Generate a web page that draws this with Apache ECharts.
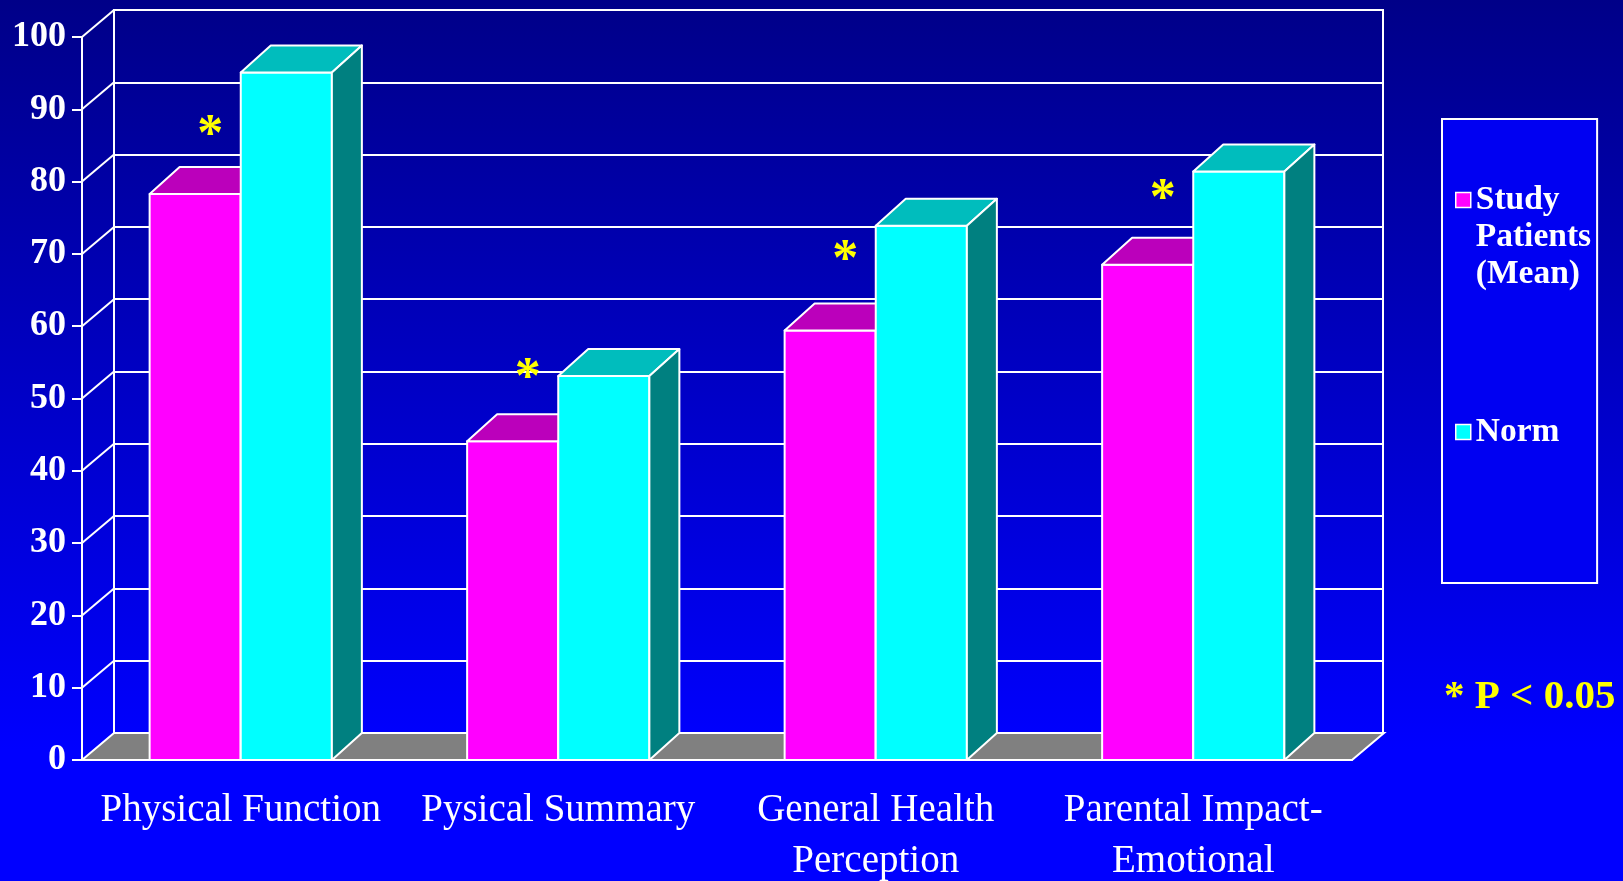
<!DOCTYPE html>
<html>
<head>
<meta charset="utf-8">
<title>Health status vs norm</title>
<script src="https://cdn.jsdelivr.net/npm/echarts@6/dist/echarts.min.js"></script>
<style>
  html, body { margin: 0; padding: 0; overflow: hidden; }
  #chart { width: 1623px; height: 881px; }
</style>
</head>
<body>
<div id="chart"></div>
<script>
var categories = ['Physical Function', 'Pysical Summary', 'General Health\nPerception', 'Parental Impact-\nEmotional'];
var seriesNames = ['Study Patients (Mean)', 'Norm'];
var studyPatients = [78.3, 44.1, 59.4, 68.5];
var norm = [95.1, 53.1, 73.9, 81.4];
// height of the "*" significance marks
var starLevels = [87.6, 54.0, 70.3, 78.8];
var yTicks = [0, 10, 20, 30, 40, 50, 60, 70, 80, 90, 100];

var chart = echarts.init(document.getElementById('chart'));

var edge = { stroke: '#ffffff', lineWidth: 2, lineJoin: 'round' };

function bar3d(side, front, top, right) {
  return function (params, api) {
    var c = api.coord([api.value(0), api.value(1)]);
    var b = api.coord([api.value(0), 0]);
    var w = api.size([1, 0])[0] * 0.287;
    var x = c[0] + side * w;
    var dx = 30, dy = 27;
    return {
      type: 'group',
      children: [
        { type: 'rect', shape: { x: x, y: c[1], width: w, height: b[1] - c[1] }, style: Object.assign({ fill: front }, edge) },
        { type: 'polygon', shape: { points: [[x, c[1]], [x + w, c[1]], [x + w + dx, c[1] - dy], [x + dx, c[1] - dy]] }, style: Object.assign({ fill: top }, edge) },
        { type: 'polygon', shape: { points: [[x + w, c[1]], [x + w + dx, c[1] - dy], [x + w + dx, b[1] - dy], [x + w, b[1]]] }, style: Object.assign({ fill: right }, edge) }
      ]
    };
  };
}

// left wall diagonals + grey floor
function frame(params, api) {
  var t = api.value(1);
  var p = api.coord([0, t]);
  var bw = api.size([1, 0])[0];
  var xl = p[0] - bw / 2;
  if (t !== 0) {
    return { type: 'line', shape: { x1: xl, y1: p[1], x2: xl + 32, y2: p[1] - 27 }, style: { stroke: '#ffffff', lineWidth: 2 } };
  }
  var xr = api.coord([categories.length - 1, 0])[0] + bw / 2;
  return {
    type: 'polygon',
    shape: { points: [[xl, p[1]], [xr, p[1]], [xr + 32, p[1] - 27], [xl + 32, p[1] - 27]] },
    style: { fill: '#808080', stroke: '#ffffff', lineWidth: 2 }
  };
}

function star(params, api) {
  var p = api.coord([api.value(0), api.value(1)]);
  var w = api.size([1, 0])[0] * 0.287;
  return {
    type: 'text',
    x: p[0] - w / 2 + 15,
    y: p[1] + 10, // glyph sits high in the em box
    style: {
      text: '*',
      fill: '#ffff00',
      font: 'bold 52px "Liberation Serif"',
      align: 'center',
      verticalAlign: 'middle'
    }
  };
}

chart.setOption({
  backgroundColor: {
    type: 'linear', x: 0, y: 0, x2: 0, y2: 1,
    colorStops: [
      { offset: 0, color: '#000088' },
      { offset: 0.85, color: '#0000ff' },
      { offset: 1, color: '#0000ff' }
    ]
  },
  animation: false,
  title: {
    text: '* P < 0.05',
    left: 1444,
    top: 677,
    padding: 0,
    textStyle: { color: '#ffff00', fontFamily: 'Liberation Serif', fontWeight: 'bold', fontSize: 41 }
  },
  legend: {
    orient: 'vertical',
    left: 1442,
    top: 119,
    padding: [-11.5, 6, 132.5, 13],
    itemGap: 121,
    itemWidth: 15,
    itemHeight: 15,
    itemTextGap: 14,
    icon: 'rect',
    borderColor: '#ffffff',
    borderWidth: 2,
    backgroundColor: '#0000f2',
    itemStyle: { borderColor: '#ffffff', borderWidth: 1.5 },
    data: seriesNames,
    formatter: function (name) {
      // two blank lines on top keep "Study" level with its swatch
      return name === seriesNames[0] ? '\n\nStudy\nPatients\n(Mean)' : name;
    },
    textStyle: { color: '#ffffff', fontFamily: 'Liberation Serif', fontWeight: 'bold', fontSize: 33.5, lineHeight: 37 }
  },
  grid: [
    { left: 82, right: 271, top: 37, bottom: 121, containLabel: false, outerBoundsMode: 'none' },
    { left: 114, right: 240, top: 10, bottom: 148, containLabel: false, outerBoundsMode: 'none', show: true, borderColor: '#ffffff', borderWidth: 2, backgroundColor: 'transparent' }
  ],
  xAxis: [
    {
      type: 'category',
      gridIndex: 0,
      data: categories,
      axisLine: { lineStyle: { color: '#ffffff', width: 2 } },
      axisTick: { length: 13, lineStyle: { color: '#ffffff', width: 2 } },
      axisLabel: { interval: 0, color: '#ffffff', fontFamily: 'Liberation Serif', fontSize: 39, lineHeight: 51, margin: 25 },
      splitLine: { show: false }
    },
    { type: 'category', gridIndex: 1, data: categories, show: false }
  ],
  yAxis: [
    {
      type: 'value',
      gridIndex: 0,
      min: 0,
      max: 100,
      interval: 10,
      axisLine: { show: true, lineStyle: { color: '#ffffff', width: 2 } },
      axisTick: { show: true, length: 10, lineStyle: { color: '#ffffff', width: 2 } },
      axisLabel: { color: '#ffffff', fontFamily: 'Liberation Serif', fontWeight: 'bold', fontSize: 36, margin: 16 },
      splitLine: { show: false }
    },
    {
      type: 'value',
      gridIndex: 1,
      min: 0,
      max: 100,
      interval: 10,
      axisLine: { show: false },
      axisTick: { show: false },
      axisLabel: { show: false },
      splitLine: { lineStyle: { color: '#ffffff', width: 2 } }
    }
  ],
  series: [
    {
      type: 'custom',
      name: 'frame',
      z: 2,
      silent: true,
      renderItem: frame,
      data: yTicks.map(function (t) { return [0, t]; })
    },
    {
      type: 'custom',
      name: seriesNames[0],
      z: 3,
      itemStyle: { color: '#ff00ff' },
      renderItem: bar3d(-1, '#ff00ff', '#bb00bb', '#880088'),
      data: studyPatients.map(function (v, i) { return [i, v]; })
    },
    {
      type: 'custom',
      name: seriesNames[1],
      z: 3,
      itemStyle: { color: '#00ffff' },
      renderItem: bar3d(0, '#00ffff', '#00bdbd', '#008080'),
      data: norm.map(function (v, i) { return [i, v]; })
    },
    {
      type: 'custom',
      name: 'significance',
      z: 5,
      silent: true,
      renderItem: star,
      data: starLevels.map(function (v, i) { return [i, v]; })
    }
  ]
});
</script>
</body>
</html>
